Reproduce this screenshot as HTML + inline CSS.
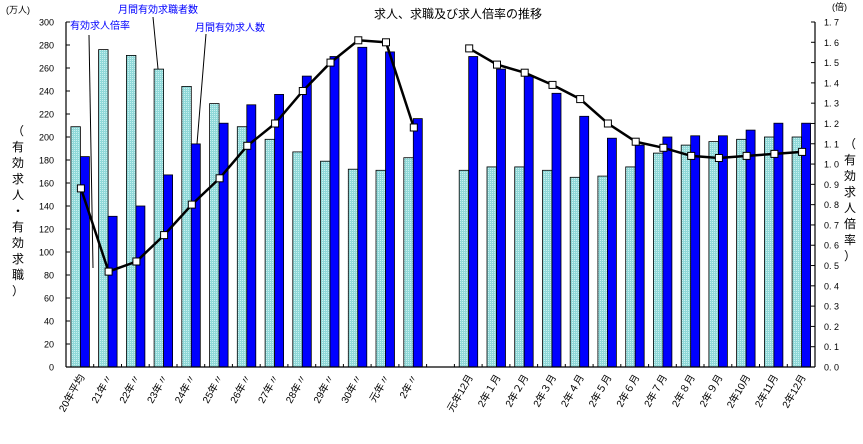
<!DOCTYPE html>
<html><head><meta charset="utf-8"><style>
html,body{margin:0;padding:0;background:#fff;}
svg{display:block;font-family:"Liberation Sans","Noto Sans CJK JP",sans-serif;}
</style></head><body>
<svg id="s" width="863" height="444" viewBox="0 0 863 444" xmlns="http://www.w3.org/2000/svg">
<defs>
<pattern id="dot" width="2" height="2" patternUnits="userSpaceOnUse">
<rect width="2" height="2" fill="#8fd8d8"/><rect width="1" height="1" fill="#c8f0f0"/>
</pattern>
</defs>
<text x="458" y="18" font-size="12" text-anchor="middle" fill="#000">求人、求職及び求人倍率の推移</text>
<text x="6" y="13" font-size="9" fill="#000">(万人)</text>
<text x="832" y="10" font-size="9" fill="#000">(倍)</text>
<g id="g"></g>
<text x="70" y="29" font-size="10" fill="#0000ff">有効求人倍率</text>
<text x="118" y="13" font-size="10" fill="#0000ff">月間有効求職者数</text>
<text x="195" y="31" font-size="10" fill="#0000ff">月間有効求人数</text>
<line x1="89" y1="35" x2="93" y2="268" stroke="#000" stroke-width="1"/>
<line x1="153" y1="17" x2="158" y2="69" stroke="#000" stroke-width="1"/>
<line x1="206" y1="34" x2="197" y2="144" stroke="#000" stroke-width="1"/>
</svg>
<script>
var g=document.getElementById('g'),h='';
var L=66,R=815,T=22,B=367;
function yv(v){return B-v*(B-T)/300;}
function yr(v){return B-v*(B-T)/1.7;}
var sw=(R-L)/27;
var light=[209,276,271,259,244,229,209,198,187,179,172,171,182,null,171,174,174,171,165,166,174,186,193,196,198,200,200];
var dark=[183,131,140,167,194,212,228,237,253,270,278,274,216,null,270,259,253,238,218,199,193,200,201,201,206,212,212];
var rat=[0.88,0.47,0.52,0.65,0.80,0.93,1.09,1.20,1.36,1.50,1.61,1.60,1.18,null,1.57,1.49,1.45,1.39,1.32,1.20,1.11,1.08,1.04,1.03,1.04,1.05,1.06];
var labs=["20年平均","21年〃","22年〃","23年〃","24年〃","25年〃","26年〃","27年〃","28年〃","29年〃","30年〃","元年〃","2年〃","","元年12月","2年１月","2年２月","2年３月","2年４月","2年５月","2年６月","2年７月","2年８月","2年９月","2年10月","2年11月","2年12月"];
for(var i=0;i<27;i++){
 var c=L+sw*(i+0.5)+1;
 if(light[i]!=null){
  h+='<rect x="'+(c-10).toFixed(1)+'" y="'+yv(light[i]).toFixed(1)+'" width="9.5" height="'+(B-yv(light[i])).toFixed(1)+'" fill="url(#dot)" stroke="#000" stroke-width="0.8"/>';
  h+='<rect x="'+(c-0.5).toFixed(1)+'" y="'+yv(dark[i]).toFixed(1)+'" width="9" height="'+(B-yv(dark[i])).toFixed(1)+'" fill="#0000ff" stroke="#000" stroke-width="0.8"/>';
 }
 h+='<line x1="'+(L+sw*i).toFixed(1)+'" y1="'+B+'" x2="'+(L+sw*i).toFixed(1)+'" y2="'+(B-3)+'" stroke="#000"/>';
 if(labs[i]) h+='<text font-size="10" text-anchor="end" transform="translate('+(c+4).toFixed(1)+','+(B+10)+') rotate(-60)">'+labs[i]+'</text>';
}
function line(a,b){var p=[];for(var i=a;i<=b;i++)p.push((L+sw*(i+0.5)+1).toFixed(1)+','+yr(rat[i]).toFixed(1));return '<polyline points="'+p.join(' ')+'" fill="none" stroke="#000" stroke-width="2.5"/>';}
h+=line(0,12)+line(14,26);
for(var i=0;i<27;i++){if(rat[i]==null)continue;var c=L+sw*(i+0.5)+1;h+='<rect x="'+(c-3.5).toFixed(1)+'" y="'+(yr(rat[i])-3.5).toFixed(1)+'" width="7" height="7" fill="#fff" stroke="#000" stroke-width="1"/>';}
h+='<line x1="'+L+'" y1="'+T+'" x2="'+L+'" y2="'+B+'" stroke="#000" stroke-width="1.2"/>';
h+='<line x1="'+R+'" y1="'+T+'" x2="'+R+'" y2="'+B+'" stroke="#000" stroke-width="1.2"/>';
h+='<line x1="'+L+'" y1="'+B+'" x2="'+R+'" y2="'+B+'" stroke="#000" stroke-width="1.2"/>';
for(var v=0;v<=300;v+=20){var y=yv(v);h+='<line x1="'+L+'" y1="'+y+'" x2="'+(L+4)+'" y2="'+y+'" stroke="#000"/><text x="'+(L-12)+'" y="'+(y+3.5)+'" font-size="9" text-anchor="end">'+v+'</text>';}
for(var k=0;k<=17;k++){var y=yr(k/10);h+='<line x1="'+(R-4)+'" y1="'+y+'" x2="'+R+'" y2="'+y+'" stroke="#000"/><text x="'+(R+9)+'" y="'+(y+3.5)+'" font-size="9">'+(k/10).toFixed(1).replace('.','. ')+'</text>';}
var lt="（有効求人・有効求職）";for(var j=0;j<lt.length;j++)h+='<text x="18" y="'+(135+j*16)+'" font-size="12" text-anchor="middle">'+lt[j]+'</text>';
var rt="（有効求人倍率）";for(var j=0;j<rt.length;j++)h+='<text x="850" y="'+(148+j*16)+'" font-size="12" text-anchor="middle">'+rt[j]+'</text>';
g.innerHTML=h;
</script>
</body></html>
